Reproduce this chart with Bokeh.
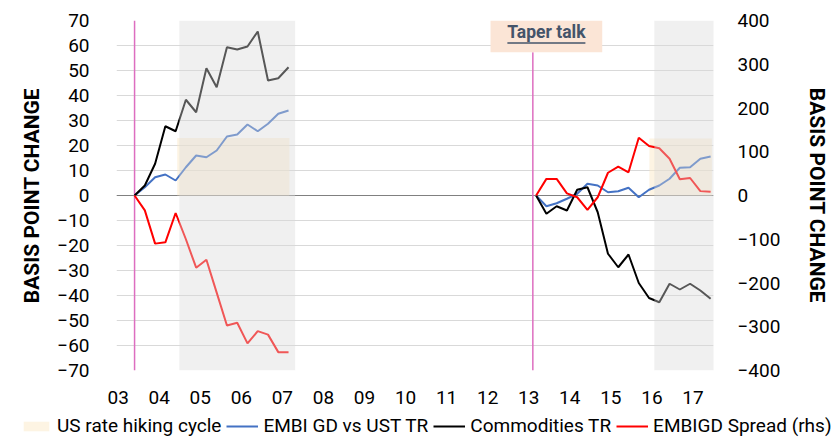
from bokeh.plotting import figure
from bokeh.models import Range1d, LinearAxis, FixedTicker, Legend, LegendItem, Span, Spacer
from bokeh.layouts import row, column
from bokeh.core.properties import value
from bokeh.embed import file_html
from bokeh.resources import INLINE

# ---------------- data ----------------
year_ticks = [3, 4, 5, 6, 7, 8, 9, 10, 11, 12, 13, 14, 15, 16, 17]
year_labels = ["03", "04", "05", "06", "07", "08", "09", "10", "11", "12", "13", "14", "15", "16", "17"]
left_ticks = [-70, -60, -50, -40, -30, -20, -10, 0, 10, 20, 30, 40, 50, 60, 70]
right_ticks = [-400, -300, -200, -100, 0, 100, 200, 300, 400]

# episode 1 (2003-2007), quarterly
x1 = [3.40, 3.65, 3.90, 4.15, 4.40, 4.65, 4.90, 5.15, 5.40, 5.65, 5.90, 6.15, 6.40, 6.65, 6.90, 7.15]
embi1 = [0, 3.3, 7.3, 8.4, 6, 11.3, 16, 15.3, 18, 23.6, 24.4, 28.4, 25.7, 28.7, 32.7, 34]
comm1 = [0, 4, 12.7, 27.7, 25.7, 38.3, 33.3, 50.9, 43.3, 59.3, 58.4, 59.6, 65.6, 46, 46.9, 51.3]
spread1 = [0, -34, -110, -107, -40, -100, -165, -147, -222, -297, -291, -338, -310, -318, -358, -358]

# episode 2 (taper talk 2013-2017), quarterly
x2 = [13.18, 13.43, 13.68, 13.93, 14.18, 14.43, 14.68, 14.93, 15.18, 15.43, 15.68, 15.93,
      16.18, 16.43, 16.68, 16.93, 17.18, 17.43]
embi2 = [0, -4.3, -3.1, -1.3, 0.7, 4.7, 4, 1.3, 1.7, 3.1, -0.7, 2.3, 4, 6.7, 11.1, 11.3, 14.7, 15.6]
comm2 = [0, -7.3, -4.3, -6, 2.3, 3.3, -6.7, -23.3, -28.7, -23.6, -35, -41, -42.7, -35.3, -37.6, -35.3, -38, -41.3]
spread2 = [0, 38, 38, 5, -4, -33, -4, 52, 66, 53, 132, 113, 108, 84, 37, 40, 10, 8.5]

# shaded periods
hike_start = [4.44, 15.94]
hike_end = [7.17, 17.46]
hike_top = [23, 22.8]
grey_start = [4.49, 16.06]
grey_end = [7.31, 17.53]

# event markers
event_x = [3.40, 13.10]
event_top = [70, 57.3]
taper_box = dict(left=12.07, right=14.79, bottom=57.3, top=70)
taper_text_x = 13.43
taper_text_y = 65.3

legend_labels = ["US rate hiking cycle", "EMBI GD vs UST TR", "Commodities TR", "EMBIGD Spread (rhs)"]

FONT = "Roboto"
PAD_LEFT = 17
MAIN_H = 413
LEG_H = 24
BEIGE = "#FBE9C8"
BLUE = "#4472C4"
RED = "#FF0000"

p = figure(width=836 - PAD_LEFT, height=MAIN_H, output_backend="svg", toolbar_location=None,
           x_range=Range1d(2.96, 17.50), y_range=Range1d(-70, 70),
           min_border_left=115 - PAD_LEFT, min_border_right=123, min_border_top=20,
           min_border_bottom=MAIN_H - 370)
p.outline_line_color = None
p.background_fill_color = "white"
p.extra_y_ranges = {"right": Range1d(-400, 400)}

# beige hiking cycle (under lines)
p.quad(left=hike_start, right=hike_end, bottom=0, top=hike_top,
       fill_color=BEIGE, fill_alpha=0.5, line_color=None)

zero = Span(location=0, dimension="width", line_color="#808080", line_width=1, level="underlay")
p.add_layout(zero)

# event lines
p.segment(x0=event_x, x1=event_x, y0=[-70, -70], y1=event_top, line_color="#DD6EC0", line_width=1.5)

# series
p.line(x1, embi1, line_color=BLUE, line_width=2)
p.line(x2, embi2, line_color=BLUE, line_width=2)
p.line(x1, comm1, line_color="black", line_width=2)
p.line(x2, comm2, line_color="black", line_width=2)
p.line(x1, spread1, line_color=RED, line_width=2, y_range_name="right")
p.line(x2, spread2, line_color=RED, line_width=2, y_range_name="right")

# grey overlays
p.quad(left=grey_start, right=grey_end, bottom=-70, top=70,
       fill_color="#D9D9D9", fill_alpha=0.4, line_color=None)

# taper talk label
p.quad(left=[taper_box["left"]], right=[taper_box["right"]], bottom=[taper_box["bottom"]],
       top=[taper_box["top"]], fill_color="#FBE5D6", line_color=None)
p.text(x=[taper_text_x], y=[taper_text_y], text=["Taper talk"], text_font=value(FONT),
       text_font_style="bold", text_font_size="17.5px", text_color="#44546A",
       text_align="center", text_baseline="middle")
p.segment(x0=[12.48], x1=[14.38], y0=[61.0], y1=[61.0], line_color="#44546A", line_width=1.6)

# axes
p.xaxis.ticker = FixedTicker(ticks=year_ticks)
p.xaxis.major_label_overrides = {t: l for t, l in zip(year_ticks, year_labels)}
p.yaxis.ticker = FixedTicker(ticks=left_ticks)
p.ygrid.ticker = FixedTicker(ticks=left_ticks)
p.ygrid.grid_line_color = "#D9D9D9"
p.xgrid.visible = False
p.yaxis.axis_label = "BASIS POINT CHANGE"

raxis = LinearAxis(y_range_name="right", ticker=FixedTicker(ticks=right_ticks),
                   axis_label="BASIS POINT CHANGE")
p.add_layout(raxis, "right")

for ax in [p.xaxis[0], p.yaxis[0], raxis]:
    ax.axis_line_color = None
    ax.major_tick_line_color = None
    ax.minor_tick_line_color = None
    ax.major_label_text_font = FONT
    ax.major_label_text_font_size = "19px"
    ax.major_label_text_color = "black"
    ax.axis_label_text_font = FONT
    ax.axis_label_text_font_size = "21px"
    ax.axis_label_text_font_style = "bold"
    ax.axis_label_text_color = "black"

p.xaxis.major_label_standoff = 14
p.yaxis[0].major_label_standoff = 21
p.yaxis[0].axis_label_standoff = 10
raxis.major_label_standoff = 18
raxis.axis_label_standoff = 22

# ---------------- legend strip (same data, outside this strip's view) ----------------
leg = figure(width=836, height=LEG_H, output_backend="svg", toolbar_location=None,
             x_range=Range1d(0, 1), y_range=Range1d(0, 1), x_axis_type=None, y_axis_type=None,
             min_border=0)
leg.outline_line_color = None
leg.xgrid.visible = False
leg.ygrid.visible = False
g_hike = leg.quad(left=hike_start, right=hike_end, bottom=0, top=hike_top,
                  fill_color=BEIGE, fill_alpha=0.5, line_color=None)
g_embi = leg.line(x1, embi1, line_color=BLUE, line_width=2)
g_comm = leg.line(x1, comm1, line_color="black", line_width=2)
g_spr = leg.line(x1, spread1, line_color=RED, line_width=2)

legend = Legend(items=[LegendItem(label=lab, renderers=[r]) for lab, r in
                       zip(legend_labels, [g_hike, g_embi, g_comm, g_spr])],
                orientation="horizontal", location=(20, 0))
legend.border_line_color = None
legend.background_fill_alpha = 0
legend.padding = 0
legend.margin = 0
legend.spacing = 5
legend.glyph_width = 32
legend.glyph_height = 12
legend.label_standoff = 5
legend.label_text_font = FONT
legend.label_text_font_size = "19px"
legend.label_text_color = "black"
leg.add_layout(legend)

layout = column(row(Spacer(width=PAD_LEFT, height=MAIN_H), p), leg, spacing=0)
open("out.html", "w").write(file_html(layout, INLINE))
